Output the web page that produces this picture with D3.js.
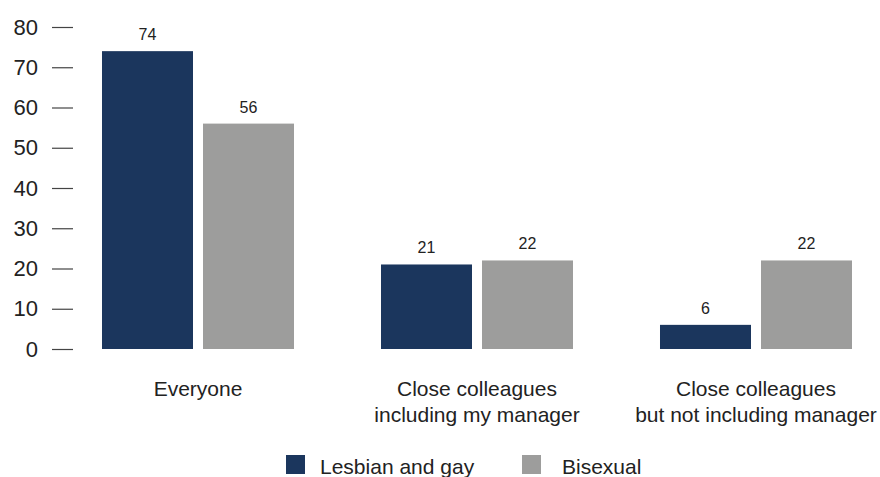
<!DOCTYPE html>
<html><head><meta charset="utf-8">
<script src="https://cdn.jsdelivr.net/npm/d3@7"></script>
<style>
body{margin:0;background:#fff;}
text{font-family:"Liberation Sans",Arial,sans-serif;fill:#222;}
</style></head>
<body><svg id="c" width="880" height="477"></svg>
<script>
const categories = [["Everyone"], ["Close colleagues","including my manager"], ["Close colleagues","but not including manager"]];
const seriesNames = ["Lesbian and gay", "Bisexual"];
const lesbianGay = [74, 21, 6];
const bisexual = [56, 22, 22];
const yTicks = [0,10,20,30,40,50,60,70,80];
const colors = ["#1b365d", "#9d9d9c"];

const svg = d3.select("#c");
const y = d3.scaleLinear().domain([0,80]).range([349,27]);
const x0 = d3.scaleBand().domain(d3.range(categories.length)).range([58.5,895.5]).paddingInner(0.3118).paddingOuter(0.1559);
const x1 = d3.scaleBand().domain(d3.range(seriesNames.length)).range([0,x0.bandwidth()]).paddingInner(10/101).paddingOuter(0);

// y axis
const yAxis = d3.axisRight(y).tickValues(yTicks).tickSize(21).tickPadding(0).tickFormat(()=>"");
const ya = svg.append("g").attr("transform","translate(52,0)").call(yAxis);
ya.select(".domain").remove();
ya.selectAll(".tick line").attr("stroke","#444").attr("stroke-width",1.2);
svg.append("g").selectAll("text").data(yTicks).join("text")
  .attr("x",38).attr("y",d=>y(d)).attr("dy","0.35em").attr("text-anchor","end")
  .style("font-size","22px").text(d=>d);

const series = [lesbianGay, bisexual];
const g = svg.append("g");
categories.forEach((c,i)=>{
  series.forEach((s,j)=>{
    const bx = x0(i)+x1(j);
    g.append("rect").attr("x",bx).attr("y",y(s[i])).attr("width",x1.bandwidth())
      .attr("height",y(0)-y(s[i])).attr("fill",colors[j]);
    g.append("text").attr("x",bx+x1.bandwidth()/2).attr("y",y(s[i])-11)
      .attr("text-anchor","middle").style("font-size","16px").text(s[i]);
  });
  const t = g.append("text").attr("text-anchor","middle").style("font-size","21px");
  c.forEach((line,k)=>{
    t.append("tspan").attr("x",x0(i)+x0.bandwidth()/2).attr("y",396+k*26).text(line);
  });
});

// legend
const legX = [286, 522];
const legTextX = [320, 562];
seriesNames.forEach((n,j)=>{
  svg.append("rect").attr("x",legX[j]).attr("y",455).attr("width",19).attr("height",19).attr("fill",colors[j]);
  svg.append("text").attr("x",legTextX[j]).attr("y",474).style("font-size","21px").text(n);
});
</script></body></html>
